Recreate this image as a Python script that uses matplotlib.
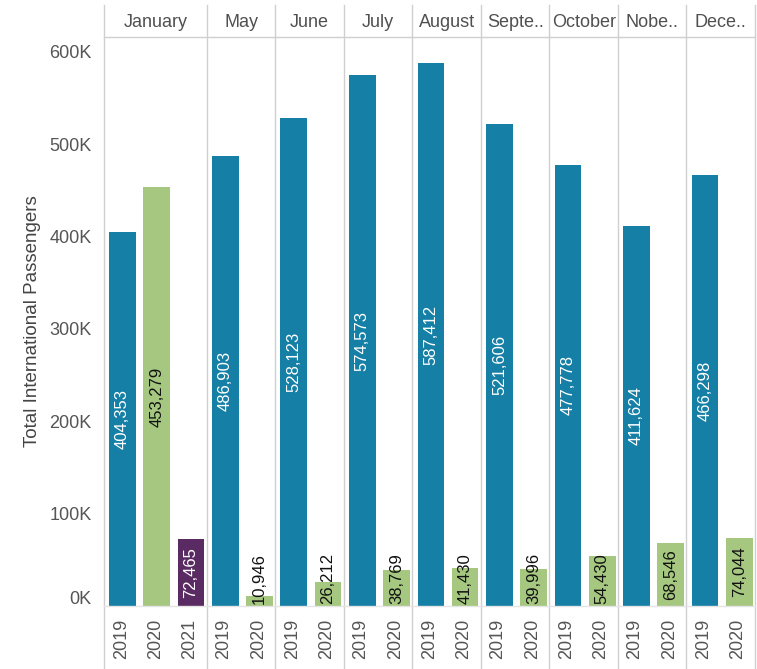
#!/usr/bin/env python3
# total international passengers, faceted by month, 2019 vs 2020 (+ Jan 2021)

import matplotlib
matplotlib.use('Agg')
import matplotlib.pyplot as plt
import matplotlib.transforms as mtrans

plt.rcParams['font.family'] = ['Liberation Sans', 'DejaVu Sans']

months = ['January', 'May', 'June', 'July', 'August', 'Septe..', 'October', 'Nobe..', 'Dece..']
years = [
  ['2019', '2020', '2021'],
  ['2019', '2020'],
  ['2019', '2020'],
  ['2019', '2020'],
  ['2019', '2020'],
  ['2019', '2020'],
  ['2019', '2020'],
  ['2019', '2020'],
  ['2019', '2020'],
]
passengers = [
  [404353, 453279, 72465],
  [486903, 10946],
  [528123, 26212],
  [574573, 38769],
  [587412, 41430],
  [521606, 39996],
  [477778, 54430],
  [411624, 68546],
  [466298, 74044],
]
yticks = [0, 100000, 200000, 300000, 400000, 500000, 600000]
ytick_labels = ['0K', '100K', '200K', '300K', '400K', '500K', '600K']

year_color = {'2019': '#157fa6', '2020': '#a5c780', '2021': '#5a2a62'}
label_color = {'2019': 'white', '2020': '#111111', '2021': 'white'}
sep_color = '#cfcfcf'
text_gray = '#555555'

fig = plt.figure(figsize=(7.57, 6.69), dpi=100)
W, H = 757, 669
ax = fig.add_axes([104 / W, (H - 606) / H, (755 - 104) / W, (606 - 37) / H])

x = 0
xs, xlabels, group_edges, group_centers = [], [], [-0.5], []
for m, ys, vs in zip(months, years, passengers):
  start = x
  for yr, v in zip(ys, vs):
    ax.bar(x + 0.04, v, width=0.78, color=year_color[yr], zorder=2)
    txt = f'{v:,}'
    if v > 65000:
      ax.text(x + 0.04, v / 2, txt, rotation=90, ha='center', va='center',
              color=label_color[yr], fontsize=12, zorder=3)
    else:
      ax.text(x + 0.04, 2500, txt, rotation=90, ha='center', va='bottom',
              color=label_color[yr], fontsize=12, zorder=3)
    xs.append(x)
    xlabels.append(yr)
    x += 1
  group_edges.append(x - 0.5)
  group_centers.append((start + x - 1) / 2)

ax.set_xlim(-0.5, x - 0.5)
ax.set_ylim(0, 616000)
ax.set_xticks(xs)
ax.set_xticklabels(xlabels, rotation=90, color=text_gray, fontsize=13)
ax.set_yticks(yticks)
ax.set_yticklabels(ytick_labels, color=text_gray, fontsize=13)
ax.tick_params(axis='both', length=0)
ax.tick_params(axis='x', pad=9)
ax.tick_params(axis='y', pad=9)
for s in ax.spines.values():
  s.set_visible(False)
# the 0K label sits a bit above the baseline
zero_lbl = ax.get_yticklabels()[0]
zero_lbl.set_transform(zero_lbl.get_transform() +
                       mtrans.ScaledTranslation(0, 9 / 100, fig.dpi_scale_trans))

# facet separators running through header and year rows
tr = mtrans.blended_transform_factory(ax.transData, ax.transAxes)
for e in group_edges:
  ax.plot([e, e], [-0.111, 1.056], transform=tr, color=sep_color, lw=1.0,
          clip_on=False, zorder=1)
# header bottom line and base line
ax.plot([0, 1], [1, 1], transform=ax.transAxes, color=sep_color, lw=1.0, clip_on=False)
ax.plot([0, 1], [0, 0], transform=ax.transAxes, color='#e4e4e4', lw=1.0, clip_on=False)

for m, c in zip(months, group_centers):
  ax.text(c, 1.026, m, transform=tr, ha='center', va='center',
          color='#505050', fontsize=13)

fig.text(33 / W, (H - 321) / H, 'Total International Passengers', rotation=90,
         ha='center', va='center', color='#444444', fontsize=13.5)

fig.savefig('out.png', dpi=100)
